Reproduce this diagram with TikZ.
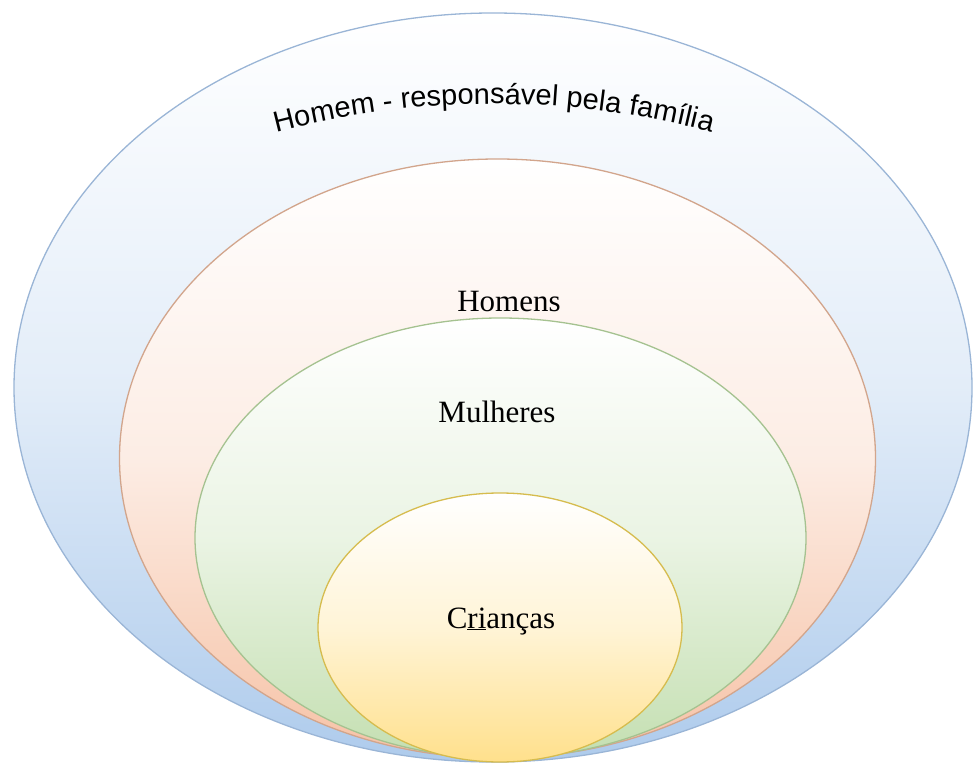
\documentclass[tikz,border=0pt]{standalone}
\usepackage{fontspec}
\setmainfont{Liberation Serif}
\newfontfamily\arialfont{Liberation Sans}
\usepackage{xcolor}
\definecolor{bBlue}{HTML}{9AB5D6}
\definecolor{fBlue}{HTML}{AECBEC}
\definecolor{bOrange}{HTML}{D2A58C}
\definecolor{fOrange}{HTML}{F6C2A6}
\definecolor{bGreen}{HTML}{A5C290}
\definecolor{fGreen}{HTML}{C4DFB1}
\definecolor{bYellow}{HTML}{D6BC4E}
\definecolor{fYellow}{HTML}{FFE08C}
\usepackage{tikz}
\usetikzlibrary{decorations.text}

\begin{document}
\begin{tikzpicture}[
  x=1pt, y=1pt,
  ring/.style={line width=1.3pt, shade, top color=white},
  lbl/.style={font=\fontsize{31}{36}\selectfont, inner sep=0pt, anchor=base}
]
\useasboundingbox (0,0) rectangle (974,764);
% nested circles, biggest first
\draw[ring, draw=bBlue, bottom color=fBlue, middle color=fBlue!35]
  (493,376.5) ellipse [x radius=479, y radius=374.5];
\draw[ring, draw=bOrange, bottom color=fOrange, middle color=fOrange!30]
  (497.5,305.5) ellipse [x radius=378, y radius=299.5];
\draw[ring, draw=bGreen, bottom color=fGreen, middle color=fGreen!35]
  (500.5,226) ellipse [x radius=305.5, y radius=220];
\draw[ring, draw=bYellow, bottom color=fYellow, middle color=fYellow!35]
  (500,136.5) ellipse [x radius=182, y radius=134.5];
% labels
\path[decorate, decoration={text along path, text align=center,
    text={|\arialfont\fontsize{29}{34}\selectfont|Homem - responsável pela família}}]
  (494,-195) ++(110:855) arc[start angle=110, end angle=70, radius=855];
\node[lbl] (homens)   at (509,452) {Homens};
\node[lbl] (mulheres) at (497,342) {Mulheres};
\node[lbl] (criancas) at (501,136) {C\underline{ri}anças};
\end{tikzpicture}
\end{document}
